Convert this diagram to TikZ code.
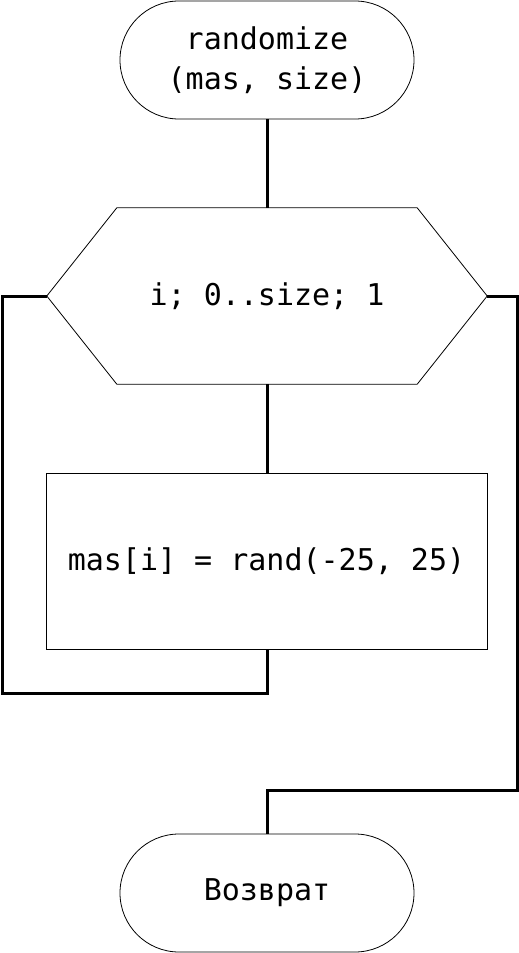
\documentclass[tikz,border=0pt]{standalone}
\usepackage{fontspec}
\setmonofont{DejaVu Sans Mono}
\usetikzlibrary{calc}
\tikzset{
  txt/.style={font=\ttfamily\fontsize{30}{40}\selectfont, align=center, inner sep=0pt},
  term/.style={txt, draw, line width=0.8pt, minimum width=294pt, minimum height=118pt, rounded corners=59pt},
  procbox/.style={txt, draw, line width=0.8pt, minimum width=441pt, minimum height=176pt},
  hexbox/.style={txt, minimum width=440pt, minimum height=176pt},
  outline/.style={line width=0.8pt},
  conn/.style={line width=3pt}
}
\begin{document}
\begin{tikzpicture}[x=1pt,y=-1pt]
\useasboundingbox (0,0) rectangle (519,953);
\node[term] (start) at (267,60) {randomize\\(mas, size)};
\node[hexbox] (loop) at (267,296) {i; 0..size; 1};
\draw[outline] ($(loop.north west)+(70,0)$) -- ($(loop.north east)+(-70,0)$) -- (loop.east)
  -- ($(loop.south east)+(-70,0)$) -- ($(loop.south west)+(70,0)$) -- (loop.west) -- cycle;
\node[procbox] (body) at (266.5,561) {mas[i] = rand(-25, 25)};
\node[term] (stop) at (267,893) {Возврат};
\coordinate (l1) at (2,693);
\coordinate (r1) at (517,790);
\draw[conn] (start.south) -- (loop.north);
\draw[conn] (loop.south) -- (loop.south |- body.north);
\draw[conn] (loop.south |- body.south) -- (loop.south |- l1) -- (l1) -- (l1 |- loop.west) -- (loop.west);
\draw[conn] (loop.east) -- (r1 |- loop.east) -- (r1) -- (stop.north |- r1) -- (stop.north);
\end{tikzpicture}
\end{document}
